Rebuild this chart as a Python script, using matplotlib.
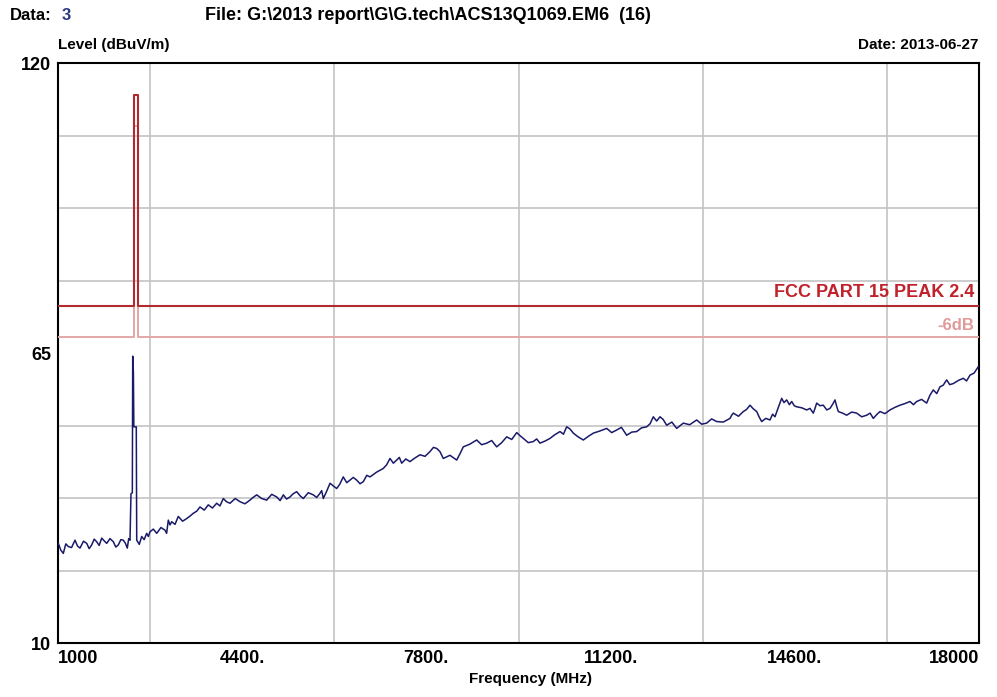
import matplotlib
matplotlib.use('Agg')
import matplotlib.pyplot as plt
from matplotlib import font_manager

freq = [1006, 1052, 1098, 1144, 1190, 1250, 1314, 1360, 1406, 1470, 1530, 1575, 1622, 1668, 1714,
        1760, 1807, 1850, 1899, 1960, 2021, 2067, 2113, 2160, 2205, 2245, 2279, 2305, 2329,
        2347, 2372, 2379, 2392, 2400, 2445, 2453,
        2500, 2545, 2590, 2637, 2668, 2698, 2760, 2822, 2900, 2975, 3005, 3036, 3068, 3099,
        3160, 3220, 3300, 3376, 3440, 3497, 3560, 3621, 3700, 3774, 3850, 3929, 3990, 4051,
        4110, 4175, 4270, 4359, 4450, 4544, 4600, 4668, 4760, 4852, 4945, 5037, 5100, 5159,
        5220, 5282, 5340, 5406, 5470, 5528, 5620, 5712, 5775, 5836, 5867, 5897, 5960, 6021,
        6080, 6144, 6200, 6266, 6330, 6390, 6450, 6513, 6575, 6635, 6700, 6759, 6880, 7004,
        7066, 7128, 7190, 7252, 7300, 7344, 7420, 7497, 7590, 7682, 7775, 7866, 7930, 7990,
        8050, 8112, 8235, 8359, 8420, 8481, 8600, 8728, 8820, 8913, 9005, 9097, 9190, 9282,
        9375, 9467, 9530, 9589, 9680, 9773, 9835, 9897, 9990, 10081, 10170, 10266, 10330, 10389,
        10450, 10512, 10600, 10696, 10790, 10881, 11000, 11128, 11220, 11313, 11400, 11497,
        11590, 11682, 11770, 11866, 11930, 11988, 12050, 12112, 12170, 12235, 12330, 12420,
        12480, 12542, 12660, 12789, 12880, 12973, 13065, 13158, 13280, 13404, 13435, 13465,
        13560, 13650, 13710, 13773, 13835, 13897, 13945, 13989, 14065, 14142, 14190, 14234,
        14300, 14358, 14400, 14450, 14500, 14543, 14590, 14635, 14730, 14820, 14880, 14941,
        14970, 15004, 15065, 15126, 15190, 15250, 15300, 15342, 15370, 15403, 15480, 15558,
        15650, 15742, 15835, 15927, 15990, 16049, 16110, 16172, 16265, 16357, 16450, 16541,
        16630, 16726, 16790, 16850, 16940, 17034, 17095, 17156, 17220, 17280, 17340, 17403,
        17460, 17525, 17620, 17710, 17770, 17834, 17910, 17987]
level = [28.9, 27.6, 27.0, 28.8, 28.3, 28.1, 29.5, 28.4, 28.0, 29.3, 28.9, 27.9, 28.6, 29.7, 29.2,
         28.5, 29.9, 29.4, 28.9, 29.8, 29.2, 28.2, 28.6, 29.6, 29.5, 28.9, 28.0, 29.8, 29.5,
         38.3, 38.5, 64.4, 61.2, 51.0, 51.0, 29.5,
         28.7, 30.2, 29.6, 30.8, 30.2, 31.1, 31.6, 30.8, 31.9, 31.4, 30.8, 33.3, 32.4, 33.0,
         32.5, 34.0, 33.1, 33.6, 34.1, 34.6, 35.0, 35.8, 35.2, 36.2, 35.6, 36.5, 36.0, 37.4,
         36.8, 36.5, 37.4, 36.8, 36.4, 37.1, 37.6, 38.1, 37.4, 37.1, 38.2, 37.7, 37.0, 38.1,
         37.3, 37.7, 38.3, 38.7, 37.9, 37.4, 38.5, 38.1, 37.6, 38.4, 38.9, 37.4, 38.8, 40.3,
         39.8, 39.3, 40.1, 41.5, 40.4, 40.9, 41.4, 40.9, 40.2, 40.6, 41.8, 41.5, 42.4, 43.1,
         43.8, 45.0, 44.1, 44.7, 45.2, 44.1, 44.9, 44.4, 45.1, 45.7, 45.4, 46.3, 47.1, 46.9,
         46.3, 45.0, 45.6, 44.7, 45.9, 47.2, 47.7, 48.5, 47.6, 47.9, 48.4, 47.2, 48.0, 49.1,
         48.6, 49.9, 49.3, 48.8, 48.0, 48.2, 48.7, 47.9, 48.3, 48.8, 49.5, 50.1, 49.6, 51.0,
         50.6, 49.8, 49.1, 48.5, 49.2, 49.8, 50.2, 50.7, 49.9, 50.4, 50.9, 49.4,
         50.0, 50.1, 50.8, 51.0, 51.6, 52.9, 52.1, 52.9, 52.4, 51.3, 51.9, 50.7,
         51.2, 51.7, 51.4, 52.3, 51.5, 51.7, 52.5, 52.0, 51.9, 52.6, 53.2, 53.6,
         53.0, 53.9, 54.3, 55.1, 54.4, 53.9, 52.8, 52.0, 52.6, 52.3, 53.4, 52.9,
         54.8, 56.4, 55.6, 56.1, 55.2, 55.8, 55.0, 54.8, 54.6, 54.2, 54.5, 53.6,
         54.4, 55.5, 55.0, 55.1, 54.2, 54.5, 55.3, 56.1, 55.0, 53.9, 53.6, 53.2,
         53.8, 53.6, 52.9, 53.2, 53.6, 52.6, 53.3, 53.9, 53.5, 54.2, 54.7, 55.1,
         55.4, 55.8, 55.2, 55.8, 56.2, 55.5, 57.0, 58.0, 57.3, 58.6, 58.9, 59.9,
         59.0, 59.2, 59.8, 60.2, 59.7, 60.8, 61.2, 62.4]

# FCC part 15 peak limit and the -6dB line
limit_freq = [1000, 2400, 2400, 2483.5, 2483.5, 18000]
limit_level = [74, 74, 114, 114, 74, 74]
margin_level = [68, 68, 108, 108, 68, 68]

xticks = [1000, 4400, 7800, 11200, 14600, 18000]
xtick_labels = ['1000', '4400.', '7800.', '11200.', '14600.', '18000']
yticks = [10, 65, 120]

names = {f.name for f in font_manager.fontManager.ttflist}
fam = 'Liberation Sans Narrow' if 'Liberation Sans Narrow' in names else 'Liberation Sans'
plt.rcParams['font.family'] = [fam, 'DejaVu Sans']
plt.rcParams['font.weight'] = 'bold'

W, H = 997, 697
fig = plt.figure(figsize=(W / 100, H / 100), dpi=100)
ax = fig.add_axes([58 / W, 1 - 643 / H, 921 / W, 580 / H])

ax.plot(limit_freq, margin_level, color='#e3a7a7', lw=1.4, zorder=3)
ax.plot(limit_freq, limit_level, color='#b02a2e', lw=1.5, zorder=4)
ax.plot(freq, level, color='#1a1a6a', lw=1.1, zorder=5)

ax.set_xlim(1000, 18000)
ax.set_ylim(10, 120)
ax.set_xticks([1000 + 1700 * i for i in range(11)], minor=True)
ax.set_yticks([10 + 13.75 * i for i in range(9)], minor=True)
ax.set_xticks(xticks)
ax.set_xticklabels(xtick_labels)
ax.set_yticks(yticks)
ax.grid(True, which='minor', color='#c4c4c4', lw=1.2)
ax.tick_params(which='both', length=0, labelsize=13, pad=5)
for s in ax.spines.values():
    s.set_linewidth(1.5)

labs = ax.get_xticklabels()
labs[0].set_ha('left')
labs[-1].set_ha('right')

ax.text(0.995, 74.8, 'FCC PART 15 PEAK 2.4', transform=ax.get_yaxis_transform(),
        ha='right', va='bottom', color='#c0212b', fontsize=13)
ax.text(0.995, 68.8, '-6dB', transform=ax.get_yaxis_transform(),
        ha='right', va='bottom', color='#e09a9a', fontsize=12)

def ftext(x, y, s, size=11, **kw):
    fig.text(x / W, 1 - y / H, s, va='center', fontsize=size, **kw)

ftext(10, 15, 'Data:', size=12)
ftext(62, 15, '3', size=12, color='#2a3a80')
ftext(205, 15, 'File: G:\\2013 report\\G\\G.tech\\ACS13Q1069.EM6  (16)', size=13)
ftext(58, 45, 'Level (dBuV/m)')
ftext(978, 45, 'Date: 2013-06-27', ha='right')
ftext(530, 679, 'Frequency (MHz)', ha='center')

fig.savefig('out.png', dpi=100)
